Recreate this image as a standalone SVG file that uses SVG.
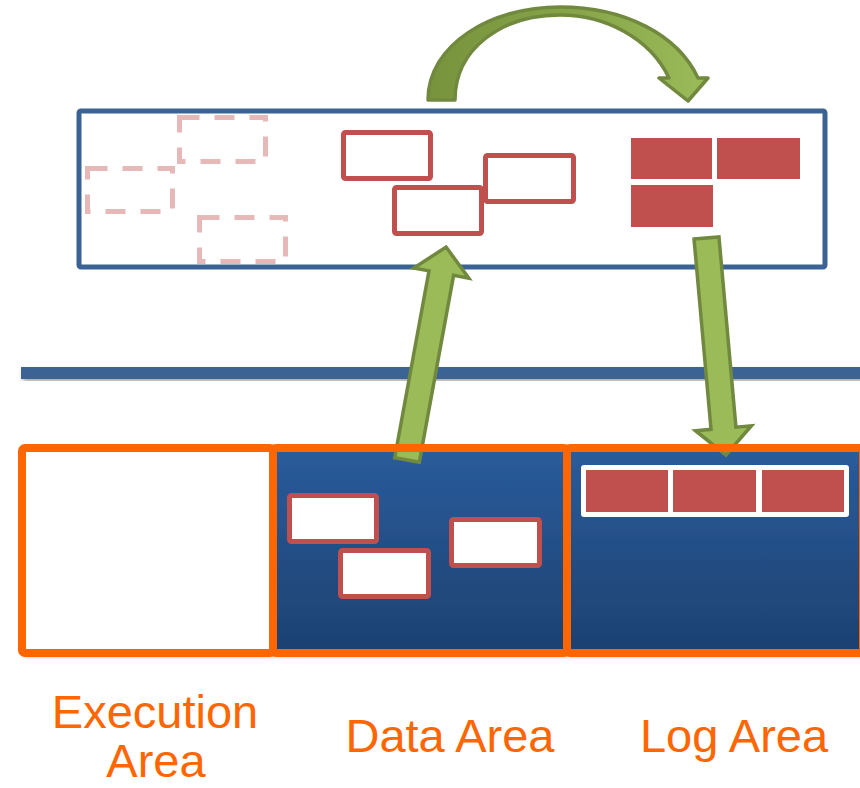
<svg xmlns="http://www.w3.org/2000/svg" width="860" height="788" viewBox="0 0 860 788">
<defs>
  <linearGradient id="areaFill" x1="0" y1="0" x2="0" y2="1">
    <stop offset="0" stop-color="#2a5c9b"/>
    <stop offset="1" stop-color="#1d4171"/>
  </linearGradient>
  <linearGradient id="archFill" x1="0" y1="0" x2="1" y2="0">
    <stop offset="0" stop-color="#77933c"/>
    <stop offset="0.5" stop-color="#86a448"/>
    <stop offset="1" stop-color="#9bbb59"/>
  </linearGradient>
  <filter id="shadow" x="-5%" y="-5%" width="115%" height="120%">
    <feDropShadow dx="2" dy="3" stdDeviation="2.5" flood-color="#000" flood-opacity="0.35"/>
  </filter>
  <style>
    .panel{fill:#ffffff;stroke:#3a6393;stroke-width:5}
    .ghost{fill:none;stroke:#e6b9b8;stroke-width:5;stroke-dasharray:20 15}
    .rec{fill:#ffffff;stroke:#c0504d;stroke-width:5}
    .blk{fill:#c0504d}
    .cell{stroke:none}
    .border{fill:none;stroke:#ff6600;stroke-width:8}
    .arrow{fill:#9bbb59;stroke:#71893f;stroke-width:3.5;stroke-linejoin:miter}
    .label{font-family:"Liberation Sans",Arial,sans-serif;font-size:47px;fill:#ff6600;text-anchor:middle}
  </style>
</defs>

<g id="buffer-pool">
  <rect class="panel" x="79" y="111" width="746" height="156" rx="2"/>
  <rect class="ghost" x="179.5" y="117.5" width="86" height="44"/>
  <rect class="ghost" x="87.5" y="168.5" width="85" height="43"/>
  <rect class="ghost" x="199.5" y="217.5" width="86" height="44"/>
  <rect class="rec" x="343.5" y="132.5" width="87" height="46" rx="2"/>
  <rect class="rec" x="485.5" y="155.5" width="88" height="46" rx="2"/>
  <rect class="rec" x="394.5" y="187.5" width="87" height="46" rx="2"/>
  <rect class="blk" x="631" y="138" width="81" height="41"/>
  <rect class="blk" x="717" y="138" width="83" height="41"/>
  <rect class="blk" x="631" y="185" width="82" height="42"/>
</g>

<g id="divider">
  <rect x="21" y="367" width="845" height="12" fill="#3a6393" filter="url(#shadow)"/>
</g>

<g id="execution-area">
  <rect class="cell" x="22" y="448" width="251" height="205" fill="#ffffff" filter="url(#shadow)"/>
</g>
<g id="data-area">
  <rect class="cell" x="273" y="448" width="294" height="205" fill="url(#areaFill)" filter="url(#shadow)"/>
  <rect class="rec" x="289.5" y="495.5" width="87" height="46" rx="2"/>
  <rect class="rec" x="340.5" y="550.5" width="88" height="46" rx="2"/>
  <rect class="rec" x="451.5" y="519.5" width="88" height="46" rx="2"/>
</g>
<g id="log-area">
  <rect class="cell" x="567" y="448" width="296" height="205" fill="url(#areaFill)" filter="url(#shadow)"/>
  <rect x="581" y="465" width="268" height="52" rx="3" fill="#ffffff"/>
  <rect class="blk" x="586" y="470" width="82" height="42"/>
  <rect class="blk" x="673" y="470" width="83" height="42"/>
  <rect class="blk" x="762" y="470" width="82" height="42"/>
</g>

<g id="connectors">
  <path d="M428,100 C428,45 490,7 560,7 C625,7 678,35 698,78 L708,78 L688,101 L659,78 L669,78 C650,38 605,15 560,15 C500,15 455,50 455,100 Z" fill="url(#archFill)" stroke="#71893f" stroke-width="3.5" stroke-linejoin="round"/>
  <g transform="translate(407,460) rotate(10.4)">
    <polygon class="arrow" points="-12.5,0 12.5,0 12.5,-190 28,-190 0,-216.5 -28,-190 -12.5,-190"/>
  </g>
  <g transform="translate(706.5,238) rotate(-5.1)">
    <polygon class="arrow" points="-12.5,0 12.5,0 12.5,191 28,191 0,218 -28,191 -12.5,191"/>
  </g>
</g>

<g id="area-borders">
  <rect class="border" x="22" y="448" width="251" height="205" rx="3"/>
  <rect class="border" x="273" y="448" width="294" height="205" rx="3"/>
  <rect class="border" x="567" y="448" width="296" height="205" rx="3"/>
</g>

<g id="labels">
  <text class="label" x="155" y="728">Execution</text>
  <text class="label" x="156" y="777">Area</text>
  <text class="label" x="450" y="752">Data Area</text>
  <text class="label" x="734" y="752">Log Area</text>
</g>
</svg>
